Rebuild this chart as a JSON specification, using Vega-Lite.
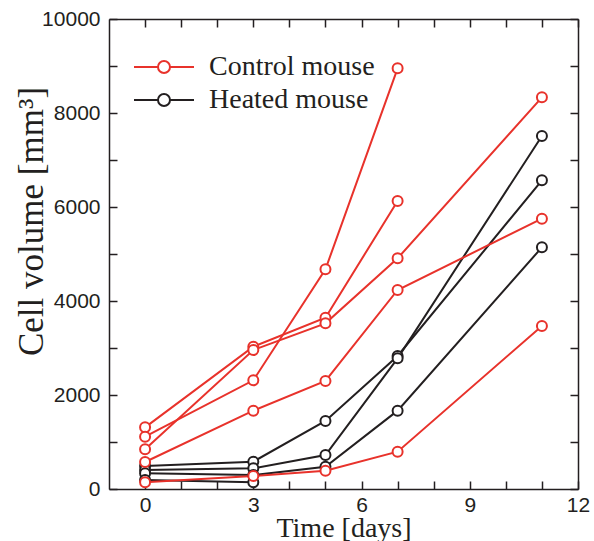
{
  "$schema": "https://vega.github.io/schema/vega-lite/v6.json",
  "width": 469,
  "height": 470,
  "autosize": "none",
  "padding": {"left": 109, "top": 19, "right": 16, "bottom": 52},
  "background": "white",
  "config": {
    "view": {"stroke": null},
    "axis": {
      "grid": false,
      "domainColor": "#231f20",
      "domainWidth": 1.5,
      "tickColor": "#231f20",
      "tickWidth": 1.5,
      "tickSize": -8,
      "labelFont": "Liberation Sans",
      "labelFontSize": 21,
      "labelColor": "#231f20",
      "titleFont": "Liberation Serif",
      "titleFontWeight": "normal",
      "titleColor": "#231f20"
    }
  },
  "data": {
    "values": [
      {"series": "H1", "group": "Heated mouse", "t": 0, "v": 489},
      {"series": "H1", "group": "Heated mouse", "t": 3, "v": 582},
      {"series": "H1", "group": "Heated mouse", "t": 5, "v": 1447},
      {"series": "H1", "group": "Heated mouse", "t": 7, "v": 2830},
      {"series": "H1", "group": "Heated mouse", "t": 11, "v": 6568},
      {"series": "H2", "group": "Heated mouse", "t": 0, "v": 404},
      {"series": "H2", "group": "Heated mouse", "t": 3, "v": 440},
      {"series": "H2", "group": "Heated mouse", "t": 5, "v": 723},
      {"series": "H2", "group": "Heated mouse", "t": 7, "v": 2780},
      {"series": "H2", "group": "Heated mouse", "t": 11, "v": 7511},
      {"series": "H3", "group": "Heated mouse", "t": 0, "v": 333},
      {"series": "H3", "group": "Heated mouse", "t": 3, "v": 298},
      {"series": "H3", "group": "Heated mouse", "t": 5, "v": 475},
      {"series": "H3", "group": "Heated mouse", "t": 7, "v": 1667},
      {"series": "H3", "group": "Heated mouse", "t": 11, "v": 5142},
      {"series": "H4", "group": "Heated mouse", "t": 0, "v": 191},
      {"series": "H4", "group": "Heated mouse", "t": 3, "v": 142},
      {"series": "C1", "group": "Control mouse", "t": 0, "v": 1312},
      {"series": "C1", "group": "Control mouse", "t": 3, "v": 3028},
      {"series": "C1", "group": "Control mouse", "t": 5, "v": 3645},
      {"series": "C1", "group": "Control mouse", "t": 7, "v": 6128},
      {"series": "C2", "group": "Control mouse", "t": 0, "v": 845},
      {"series": "C2", "group": "Control mouse", "t": 3, "v": 2957},
      {"series": "C2", "group": "Control mouse", "t": 5, "v": 3525},
      {"series": "C2", "group": "Control mouse", "t": 7, "v": 4908},
      {"series": "C2", "group": "Control mouse", "t": 11, "v": 8333},
      {"series": "C3", "group": "Control mouse", "t": 0, "v": 1113},
      {"series": "C3", "group": "Control mouse", "t": 3, "v": 2312},
      {"series": "C3", "group": "Control mouse", "t": 5, "v": 4674},
      {"series": "C3", "group": "Control mouse", "t": 7, "v": 8950},
      {"series": "C4", "group": "Control mouse", "t": 0, "v": 574},
      {"series": "C4", "group": "Control mouse", "t": 3, "v": 1667},
      {"series": "C4", "group": "Control mouse", "t": 5, "v": 2298},
      {"series": "C4", "group": "Control mouse", "t": 7, "v": 4234},
      {"series": "C4", "group": "Control mouse", "t": 11, "v": 5752},
      {"series": "C5", "group": "Control mouse", "t": 0, "v": 142},
      {"series": "C5", "group": "Control mouse", "t": 3, "v": 277},
      {"series": "C5", "group": "Control mouse", "t": 5, "v": 390},
      {"series": "C5", "group": "Control mouse", "t": 7, "v": 794},
      {"series": "C5", "group": "Control mouse", "t": 11, "v": 3470}
    ]
  },
  "layer": [
    {
      "mark": {"type": "line", "strokeWidth": 2},
      "encoding": {
        "x": {
          "field": "t", "type": "quantitative",
          "scale": {"domain": [-1, 12], "nice": false, "zero": false},
          "axis": {
            "orient": "bottom",
            "values": [0, 1, 2, 3, 4, 5, 6, 7, 8, 9, 10, 11, 12],
            "labelExpr": "datum.value % 3 === 0 ? datum.label : ''",
            "labelFlush": false,
            "labelPadding": 13,
            "title": "Time [days]",
            "titleFontSize": 28,
            "titleY": 47,
            "titleBaseline": "alphabetic"
          }
        },
        "y": {
          "field": "v", "type": "quantitative",
          "scale": {"domain": [0, 10000], "nice": false},
          "axis": {
            "orient": "left",
            "values": [0, 1000, 2000, 3000, 4000, 5000, 6000, 7000, 8000, 9000, 10000],
            "format": "d",
            "labelExpr": "datum.value % 2000 === 0 ? datum.label : ''",
            "labelFlush": false,
            "labelPadding": 17,
            "title": "Cell volume [mm³]",
            "titleFontSize": 35,
            "titleX": -67,
            "titleY": 202,
            "titleAngle": 270,
            "titleBaseline": "alphabetic"
          }
        },
        "color": {
          "field": "group", "type": "nominal",
          "scale": {"domain": ["Control mouse", "Heated mouse"], "range": ["#e8322b", "#231f20"]},
          "legend": {
            "title": null,
            "orient": "none",
            "legendX": 39,
            "legendY": 32,
            "symbolType": "M-2,0H-0.4M0.4,0H2M0.4,0A0.4,0.4,0,1,1,-0.4,0A0.4,0.4,0,1,1,0.4,0",
            "symbolSize": 900,
            "symbolStrokeWidth": 2,
            "symbolFillColor": "white",
            "labelFont": "Liberation Serif",
            "labelFontSize": 28,
            "labelColor": "#231f20",
            "labelOffset": 29,
            "labelLimit": 400,
            "rowPadding": 3
          }
        },
        "detail": {"field": "series"}
      }
    },
    {
      "mark": {"type": "point", "shape": "circle", "filled": false, "fill": "white", "size": 100, "strokeWidth": 2, "opacity": 1},
      "encoding": {
        "x": {
          "field": "t", "type": "quantitative",
          "axis": {
            "orient": "top",
            "values": [0, 1, 2, 3, 4, 5, 6, 7, 8, 9, 10, 11, 12],
            "labels": false,
            "title": null
          }
        },
        "y": {
          "field": "v", "type": "quantitative",
          "axis": {
            "orient": "right",
            "values": [0, 1000, 2000, 3000, 4000, 5000, 6000, 7000, 8000, 9000, 10000],
            "labels": false,
            "title": null
          }
        },
        "color": {"field": "group", "type": "nominal"},
        "detail": {"field": "series"}
      }
    }
  ],
  "resolve": {"axis": {"x": "independent", "y": "independent"}}
}
